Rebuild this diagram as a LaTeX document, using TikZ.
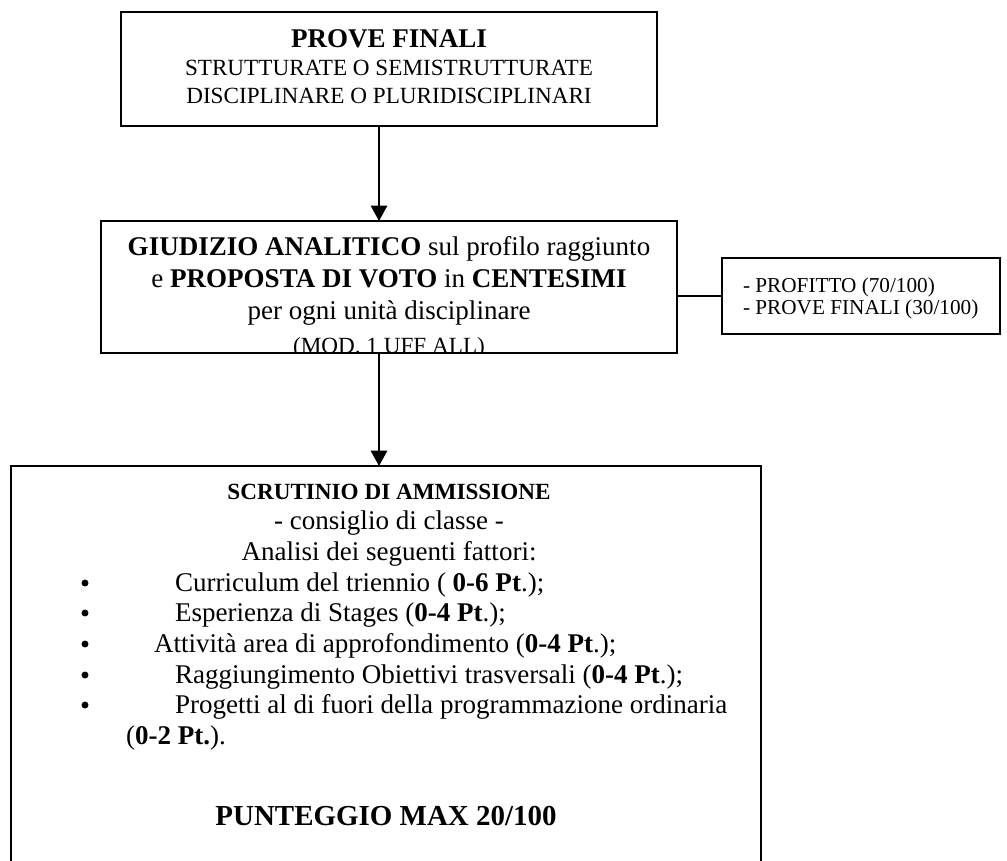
\documentclass[tikz,border=0pt]{standalone}
\usepackage{fontspec}
\setmainfont{Liberation Serif}
\usetikzlibrary{arrows.meta}
\newcommand{\fsz}[1]{\fontsize{#1}{#1}\selectfont}
\tikzset{
  box/.style={draw, line width=1pt, inner sep=0pt, outer sep=0pt, fill=white},
  ctxt/.style={inner sep=0pt, outer sep=0pt, anchor=base},
  ltxt/.style={inner sep=0pt, outer sep=0pt, anchor=base west},
  bul/.style={circle, fill=black, inner sep=0pt, outer sep=0pt, minimum size=3.6pt},
  arr/.style={line width=1pt, -{Triangle[length=8pt,width=8.5pt]}},
  conn/.style={line width=1pt},
}
\begin{document}
\begin{tikzpicture}[x=0.518pt,y=-0.518pt]
\useasboundingbox (0,0) rectangle (1007,860);
\clip (0,0) rectangle (1007,860);
\fill[white] (0,0) rectangle (1007,860);

% boxes
\node[box, minimum width=277.6pt, minimum height=59.05pt] (b1) at (389,69) {};
\node[box, minimum width=298.4pt, minimum height=68.4pt] (b2) at (389,287) {};
\node[box, minimum width=144.0pt, minimum height=39.4pt] (sb) at (861,296) {};
\node[box, minimum width=388.5pt, minimum height=224.8pt] (b3) at (386,683) {};

% connectors
\coordinate (ax) at (379,0);
\draw[arr] (b1.south -| ax) -- (b2.north -| ax);
\draw[arr] (b2.south -| ax) -- (b3.north -| ax);
\draw[conn] (b2.east |- sb.west) -- (sb.west);

% box 1 text
\node[ctxt] (t1a) at (389,47) {\fsz{14}\textbf{PROVE FINALI}};
\node[ctxt] (t1b) at (389,75) {\fsz{12}STRUTTURATE O SEMISTRUTTURATE};
\node[ctxt] (t1c) at (389,103) {\fsz{12}DISCIPLINARE O PLURIDISCIPLINARI};

% box 2 text
\node[ctxt] (t2a) at (389,255) {\fsz{14}\textbf{GIUDIZIO ANALITICO} sul profilo raggiunto};
\node[ctxt] (t2b) at (389,287) {\fsz{14}e \textbf{PROPOSTA DI VOTO} in \textbf{CENTESIMI}};
\node[ctxt] (t2c) at (389,319) {\fsz{14}per ogni unità disciplinare};
\begin{scope}
\clip (102,222) rectangle (676,352);
\node[ctxt] (t2d) at (389,353) {\fsz{12}(MOD. 1 UFF ALL)};
\end{scope}

% side box text
\node[ltxt] (s1) at (743,292) {\fsz{11}- PROFITTO (70/100)};
\node[ltxt] (s2) at (743,314) {\fsz{11}- PROVE FINALI (30/100)};

% box 3 text
\node[ctxt] (t3a) at (389,499) {\fsz{12}\textbf{SCRUTINIO DI AMMISSIONE}};
\node[ctxt] (t3b) at (389,529) {\fsz{14}- consiglio di classe -};
\node[ctxt] (t3c) at (389,560) {\fsz{14}Analisi dei seguenti fattori:};

\node[bul] (u1) at (85,583) {};
\node[bul] (u2) at (85,613) {};
\node[bul] (u3) at (85,644) {};
\node[bul] (u4) at (85,675) {};
\node[bul] (u5) at (85,705) {};

\node[ltxt] (i1) at (175,591) {\fsz{14}Curriculum del triennio ( \textbf{0-6 Pt}.);};
\node[ltxt] (i2) at (175,621) {\fsz{14}Esperienza di Stages (\textbf{0-4 Pt}.);};
\node[ltxt] (i3) at (154,652) {\fsz{14}Attività area di approfondimento (\textbf{0-4 Pt}.);};
\node[ltxt] (i4) at (175,683) {\fsz{14}Raggiungimento Obiettivi trasversali (\textbf{0-4 Pt}.);};
\node[ltxt] (i5) at (175,713) {\fsz{14}Progetti al di fuori della programmazione ordinaria};
\node[ltxt] (i6) at (126,744) {\fsz{14}(\textbf{0-2 Pt.}).};

\node[ctxt] (t3d) at (386,825) {\fsz{15}\textbf{PUNTEGGIO MAX 20/100}};
\end{tikzpicture}
\end{document}
